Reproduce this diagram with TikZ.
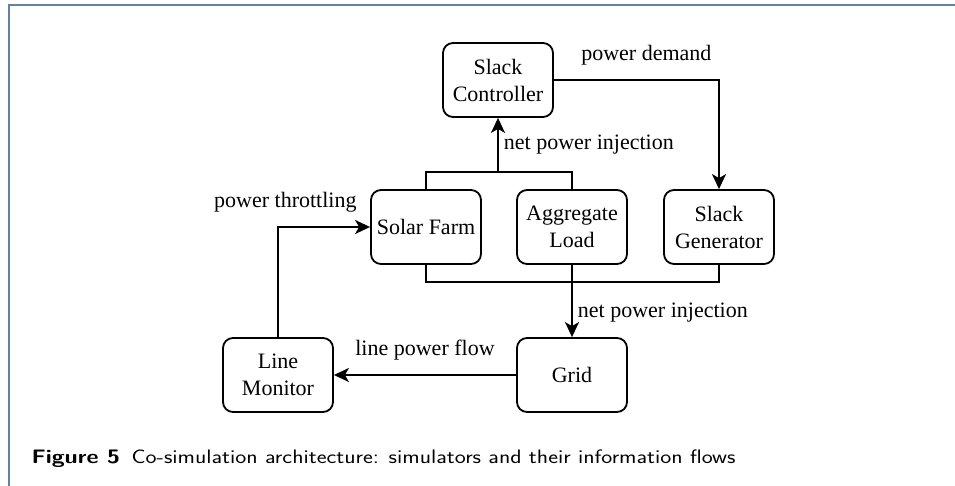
\documentclass[tikz,border=0pt]{standalone}
\usepackage{fontspec}
\setmainfont{Liberation Serif}
\usepackage{tikz}
\usetikzlibrary{arrows.meta, positioning}
\definecolor{framecol}{RGB}{98,128,168}

\begin{document}
\begin{tikzpicture}[x=1pt, y=-1pt, font=\fontsize{22}{27}\selectfont,
    sim/.style={draw, line width=1.8pt, rounded corners=10pt, minimum width=110pt, minimum height=74pt, align=center, inner sep=2pt},
    flow/.style={line width=1.8pt},
    >={Stealth[length=15pt, width=14pt, inset=4pt]}]
    \useasboundingbox (0,0) rectangle (955,486);
    \draw[framecol, line width=1.5pt] (9,486) -- (9,5) -- (955,5);
    % simulators
    \node[sim] (ctrl) at (498,80) {Slack\\Controller};
    \node[sim] (solar) at (426,227) {Solar Farm};
    \node[sim] (load) at (572,227) {Aggregate\\Load};
    \node[sim] (slgen) at (719,227) {Slack\\Generator};
    \node[sim] (grid) at (572,375) {Grid};
    \node[sim] (mon) at (278,375) {Line\\Monitor};
    \coordinate (topj) at (498,172);
    \coordinate (botj) at (572,282);
    % information flows
    \draw[flow] (solar.north) |- (topj) -| (load.north);
    \draw[flow, ->] (topj) -- (ctrl.south) node[midway, right, inner sep=5pt]{net power injection};
    \draw[flow, ->] (ctrl.east) -| (slgen.north) node[pos=0.28, above=11pt]{power demand};
    \draw[flow] (solar.south) |- (botj) -| (slgen.south);
    \draw[flow, ->] (load.south) -- (grid.north) node[pos=0.66, right, inner sep=5pt]{net power injection};
    \draw[flow, ->] (grid.west) -- (mon.east) node[midway, above=11pt]{line power flow};
    \draw[flow, ->] (mon.north) |- (solar.west) node[pos=0.54, above=11pt]{power throttling};
    \node[anchor=base west, font=\sffamily\fontsize{19.5}{22}\selectfont\addfontfeatures{LetterSpace=5}] (cap) at (28,463)
        {\scalebox{1.2}[1]{\textbf{Figure 5}\hspace{0.5em}Co-simulation architecture: simulators and their information flows}};
\end{tikzpicture}
\end{document}
